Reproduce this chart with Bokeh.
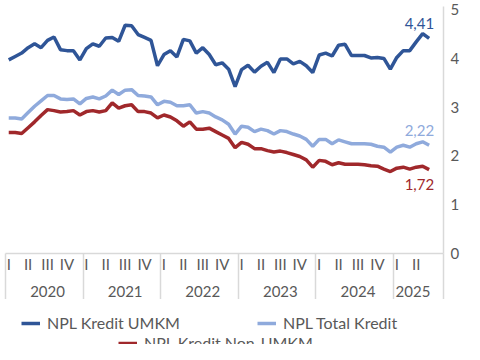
from bokeh.plotting import figure
from bokeh.models import (Range1d, LinearAxis, FixedTicker, Legend, LegendItem)
from bokeh.layouts import column
from bokeh.core.properties import value
from bokeh.embed import file_html
from bokeh.resources import INLINE

quarter_labels = ["I", "II", "III", "IV"]
years = ["2020", "2021", "2022", "2023", "2024", "2025"]
series_names = ["NPL Kredit UMKM", "NPL Total Kredit", "NPL Kredit Non-UMKM"]

umkm = [3.97, 4.04, 4.11, 4.22, 4.30, 4.22, 4.37, 4.44, 4.18, 4.16, 4.16, 3.97,
        4.20, 4.30, 4.25, 4.42, 4.43, 4.35, 4.68, 4.67, 4.49, 4.43, 4.37, 3.85,
        4.08, 4.16, 4.03, 4.39, 4.36, 4.11, 4.22, 4.08, 3.87, 3.91, 3.78, 3.42,
        3.77, 3.86, 3.72, 3.84, 3.92, 3.71, 3.99, 3.99, 3.89, 3.94, 3.85, 3.71,
        4.07, 4.11, 4.05, 4.27, 4.29, 4.06, 4.06, 4.06, 4.01, 4.02, 4.00, 3.78,
        4.02, 4.16, 4.16, 4.34, 4.51, 4.41]
total = [2.78, 2.78, 2.76, 2.89, 3.02, 3.13, 3.24, 3.24, 3.17, 3.16, 3.17, 3.07,
         3.18, 3.21, 3.17, 3.23, 3.35, 3.26, 3.35, 3.36, 3.24, 3.23, 3.21, 3.05,
         3.12, 3.10, 3.03, 3.03, 3.05, 2.88, 2.91, 2.88, 2.80, 2.74, 2.65, 2.45,
         2.61, 2.59, 2.50, 2.55, 2.52, 2.45, 2.52, 2.50, 2.45, 2.41, 2.34, 2.20,
         2.34, 2.34, 2.25, 2.33, 2.29, 2.25, 2.25, 2.25, 2.24, 2.20, 2.18, 2.08,
         2.18, 2.22, 2.18, 2.25, 2.29, 2.22]
non_umkm = [2.48, 2.48, 2.46, 2.58, 2.70, 2.83, 2.95, 2.93, 2.90, 2.91, 2.93, 2.84,
            2.91, 2.93, 2.90, 2.93, 3.09, 2.98, 3.03, 3.05, 2.91, 2.91, 2.88, 2.78,
            2.84, 2.80, 2.72, 2.61, 2.70, 2.55, 2.55, 2.57, 2.50, 2.43, 2.36, 2.17,
            2.28, 2.24, 2.15, 2.15, 2.11, 2.08, 2.10, 2.07, 2.03, 1.99, 1.92, 1.77,
            1.91, 1.89, 1.82, 1.86, 1.83, 1.83, 1.83, 1.82, 1.80, 1.79, 1.73, 1.68,
            1.75, 1.77, 1.73, 1.77, 1.79, 1.72]

months = list(range(len(umkm)))

C_UMKM = "#2F5597"
C_TOTAL = "#8FAADC"
C_NON = "#A0282B"
GRID = "#D9D9D9"
TXT = "#595959"
FONT = "Lato"

p = figure(width=464, height=299, output_backend="svg",
           toolbar_location=None, y_axis_location="right",
           x_range=Range1d(-0.5, 67.22), y_range=Range1d(0, 5.065),
           min_border_left=5, min_border_top=6, min_border_right=21,
           min_border_bottom=0)
p.outline_line_color = None
p.xgrid.visible = False
p.ygrid.visible = False
p.xaxis.visible = False

ya = p.yaxis[0]
ya.ticker = FixedTicker(ticks=[0, 1, 2, 3, 4, 5])
ya.axis_line_color = GRID
ya.axis_line_width = 1.5
ya.major_tick_line_color = None
ya.minor_tick_line_color = None
ya.major_tick_out = 0
ya.minor_tick_out = 0
ya.major_label_text_font = FONT
ya.major_label_text_font_size = "15px"
ya.major_label_text_color = TXT
ya.major_label_standoff = 7

p.line(months, umkm, line_color=C_UMKM, line_width=3.5)
p.line(months, total, line_color=C_TOTAL, line_width=3.5)
p.line(months, non_umkm, line_color=C_NON, line_width=3.5)

def fmt(v):
    return f"{v:.2f}".replace(".", ",")

last = months[-1]
for series, col, yoff in [(umkm, C_UMKM, -15), (total, C_TOTAL, -15), (non_umkm, C_NON, 15)]:
    p.text(x=[last], y=[series[-1]], text=[fmt(series[-1])], text_color=col,
           text_font=value(FONT), text_font_size="15px", text_align="right",
           text_baseline="middle", x_offset=5, y_offset=yoff)

# quarter axis (minor ticks draw the year separators)
q_ticks = list(range(0, 66, 3))
q_over = {t: quarter_labels[(t // 3) % 4] for t in q_ticks}
year_bounds = [-0.5 + 12 * i for i in range(6)] + [67.22]
qa = LinearAxis(ticker=FixedTicker(ticks=q_ticks, minor_ticks=year_bounds),
                major_label_overrides=q_over)
qa.axis_line_color = GRID
qa.axis_line_width = 1.5
qa.major_tick_line_color = None
qa.major_tick_out = 0
qa.minor_tick_line_color = GRID
qa.minor_tick_line_width = 1.5
qa.minor_tick_out = 48
qa.minor_tick_in = 0
qa.major_label_text_font = FONT
qa.major_label_text_font_size = "15px"
qa.major_label_text_color = TXT
qa.major_label_standoff = -47
p.add_layout(qa, "below")

y_ticks = [6, 18, 30, 42, 54, 62.5]
ya2 = LinearAxis(ticker=FixedTicker(ticks=y_ticks),
                 major_label_overrides={t: years[i] for i, t in enumerate(y_ticks)})
ya2.axis_line_color = None
ya2.major_tick_line_color = None
ya2.minor_tick_line_color = None
ya2.major_tick_out = 0
ya2.minor_tick_out = 0
ya2.major_label_text_font = FONT
ya2.major_label_text_font_size = "15px"
ya2.major_label_text_color = TXT
ya2.major_label_standoff = 10
p.add_layout(ya2, "below")

# legend strip (its lines lie outside its visible range; only the keys show)
lg = figure(width=464, height=45, output_backend="svg", toolbar_location=None,
            x_range=Range1d(0, 1), y_range=Range1d(100, 101),
            min_border_left=0, min_border_right=0, min_border_top=0,
            min_border_bottom=0)
lg.axis.visible = False
lg.grid.visible = False
lg.outline_line_color = None
k1 = lg.line(months, umkm, line_color=C_UMKM, line_width=3.5)
k2 = lg.line(months, total, line_color=C_TOTAL, line_width=3.5)
k3 = lg.line(months, non_umkm, line_color=C_NON, line_width=3.5)

common = dict(orientation="horizontal", padding=0, margin=0,
              glyph_width=19, glyph_height=18, label_height=18, label_standoff=7,
              label_text_font=FONT, label_text_font_size="16px",
              label_text_color=TXT, border_line_color=None,
              background_fill_alpha=0)
leg1 = Legend(items=[LegendItem(label=series_names[0], renderers=[k1]),
                     LegendItem(label=series_names[1], renderers=[k2])],
              location=(16, 12), spacing=77, label_width=131, **common)
leg2 = Legend(items=[LegendItem(label=series_names[2], renderers=[k3])],
              location=(113, -8), **common)
lg.add_layout(leg1)
lg.add_layout(leg2)

open("out.html", "w").write(file_html(column(p, lg), INLINE))
